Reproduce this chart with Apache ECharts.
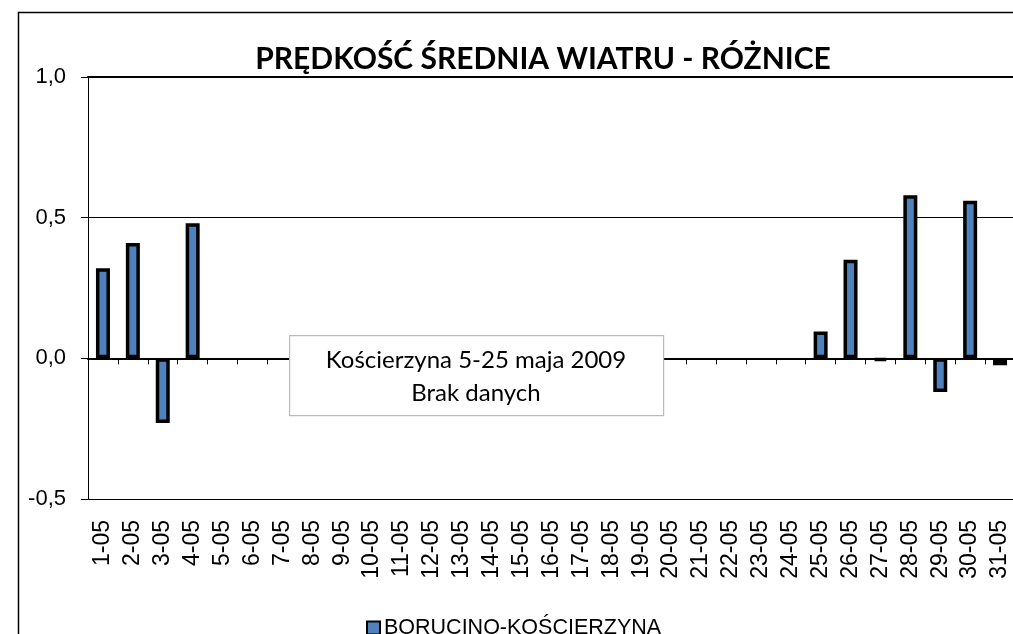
<!DOCTYPE html>
<html>
<head>
<meta charset="utf-8">
<script src="https://cdn.jsdelivr.net/npm/echarts@6/dist/echarts.min.js"></script>
<style>html,body{margin:0;padding:0;background:#fff;}#c{width:1013px;height:634px;}</style>
</head>
<body>
<div id="c"></div>
<script>
const categories = ['1-05','2-05','3-05','4-05','5-05','6-05','7-05','8-05','9-05','10-05','11-05','12-05','13-05','14-05','15-05','16-05','17-05','18-05','19-05','20-05','21-05','22-05','23-05','24-05','25-05','26-05','27-05','28-05','29-05','30-05','31-05'];
const seriesName = 'BORUCINO-KOŚCIERZYNA';
const values = [0.32, 0.41, -0.23, 0.48, null, null, null, null, null, null, null, null, null, null, null, null, null, null, null, null, null, null, null, null, 0.095, 0.35, -0.008, 0.58, -0.12, 0.56, -0.025];
const yTicks = [-0.5, 0.0, 0.5, 1.0];
const titleText = 'PRĘDKOŚĆ ŚREDNIA WIATRU - RÓŻNICE';
const noteLines = ['Kościerzyna 5-25 maja 2009', 'Brak danych'];

const chart = echarts.init(document.getElementById('c'));
chart.setOption({
  animation: false,
  backgroundColor: '#fff',
  title: {
    text: titleText,
    left: 538, textAlign: 'center', top: 39,
    textStyle: { fontFamily: 'Lato', fontWeight: 'bold', fontSize: 30, color: '#000' }
  },
  grid: { left: 88, right: -2, top: 77, bottom: 135, outerBoundsMode: 'none' },
  legend: {
    data: [seriesName], left: 361, top: 612,
    itemWidth: 13, itemHeight: 13, itemGap: 4,
    icon: 'rect',
    itemStyle: { borderWidth: 2, borderColor: '#000' },
    textStyle: { fontFamily: 'Liberation Sans', fontSize: 21.5, color: '#000', padding: [0,0,0,-1] }
  },
  xAxis: [{
    type: 'category', data: categories, position: 'bottom',
    axisLine: { lineStyle: { color: '#000', width: 2 } },
    axisTick: { show: true, length: 6, lineStyle: { color: '#000', width: 1 } },
    axisLabel: { rotate: 90, interval: 0, margin: 21, fontFamily: 'Liberation Sans', fontSize: 23, color: '#000' },
    splitLine: { show: false }
  }, {
    type: 'category', data: categories, position: 'top',
    axisLine: { lineStyle: { color: '#000', width: 2 } },
    axisTick: { show: false }, axisLabel: { show: false }
  }],
  yAxis: {
    type: 'value', min: -0.5, max: 1.0, interval: 0.5,
    axisLine: { show: true, lineStyle: { color: '#000', width: 1 } },
    axisTick: { show: true, length: 7, lineStyle: { color: '#000' } },
    axisLabel: {
      margin: 22, fontFamily: 'Liberation Sans', fontSize: 22, color: '#000',
      formatter: v => yTicks.includes(Math.round(v*10)/10) ? v.toFixed(1).replace('.', ',') : ''
    },
    splitLine: { show: true, lineStyle: { color: '#000', width: 1 } }
  },
  series: [{
    name: seriesName, type: 'bar', data: values, barWidth: 14,
    itemStyle: { color: '#4F81BD', borderColor: '#000', borderWidth: 3.5 }
  }],
  graphic: [
    { type: 'rect', left: 16, top: 10, z: 100, shape: { width: 1010, height: 640 }, style: { fill: 'none', stroke: '#000', lineWidth: 1.5 } },
    { type: 'rect', left: 289, top: 335, z: 50, shape: { width: 374, height: 80 }, style: { fill: '#fff', stroke: '#bbb', lineWidth: 1.2 } },
    { type: 'text', x: 476, y: 360, z: 51, style: { text: noteLines[0], align: 'center', verticalAlign: 'middle', font: '24px Lato', fill: '#000' } },
    { type: 'text', x: 476, y: 393, z: 51, style: { text: noteLines[1], align: 'center', verticalAlign: 'middle', font: '24px Lato', fill: '#000' } }
  ]
});
</script>
</body>
</html>
